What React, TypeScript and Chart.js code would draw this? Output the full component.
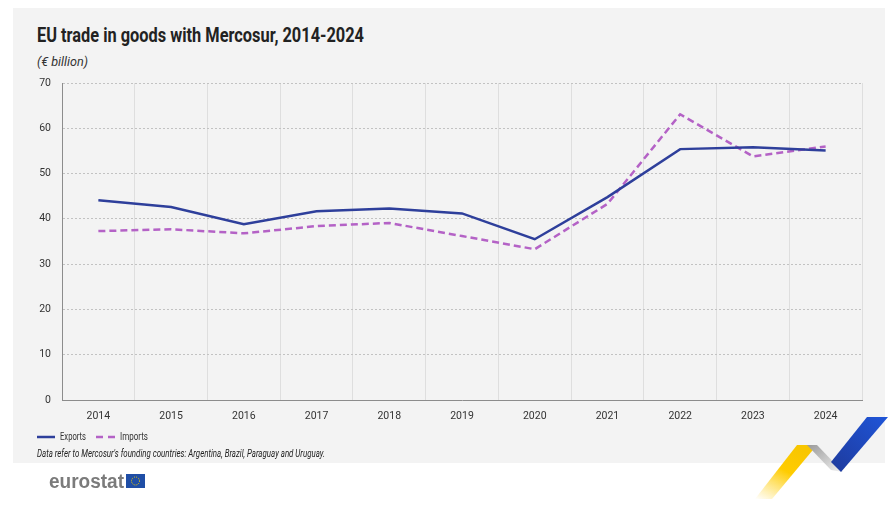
import React, { useEffect, useLayoutEffect, useRef } from "react";
import { Chart, registerables } from "chart.js";

Chart.register(...registerables);

const years = ["2014", "2015", "2016", "2017", "2018", "2019", "2020", "2021", "2022", "2023", "2024"];
const exportsData = [44.1, 42.6, 38.8, 41.7, 42.3, 41.2, 35.5, 44.8, 55.4, 55.8, 55.1];
const importsData = [37.3, 37.7, 36.8, 38.4, 39.1, 36.2, 33.3, 43.3, 63.1, 53.8, 56.0];
const yMin = 0;
const yMax = 70;
const yStep = 10;

const FONT = 'Roboto, "Liberation Sans", sans-serif';
const BLUE = "#2e3f9b";
const PURPLE = "#b462c6";

function FitText(props: { text: string; width: number; style: React.CSSProperties }) {
  const ref = useRef<HTMLSpanElement | null>(null);
  useLayoutEffect(() => {
    const el = ref.current;
    if (!el) return;
    const fit = () => {
      el.style.transform = "none";
      const w = el.getBoundingClientRect().width;
      if (w > 0) el.style.transform = `scaleX(${props.width / w})`;
    };
    fit();
    if ((document as any).fonts && (document as any).fonts.ready) {
      (document as any).fonts.ready.then(fit);
    }
  }, [props.text, props.width]);
  return (
    <span
      ref={ref}
      style={{
        position: "absolute",
        display: "inline-block",
        whiteSpace: "nowrap",
        transformOrigin: "left center",
        ...props.style,
      }}
    >
      {props.text}
    </span>
  );
}

export default function App() {
  const ref = useRef<HTMLCanvasElement | null>(null);

  useEffect(() => {
    if (!ref.current) return;
    const chart = new Chart(ref.current, {
      type: "line",
      data: {
        labels: years,
        datasets: [
          {
            label: "Exports",
            data: exportsData,
            borderColor: BLUE,
            backgroundColor: BLUE,
            borderWidth: 2.5,
            pointRadius: 0,
            tension: 0,
          },
          {
            label: "Imports",
            data: importsData,
            borderColor: PURPLE,
            backgroundColor: PURPLE,
            borderWidth: 2.5,
            borderDash: [7, 4],
            pointRadius: 0,
            tension: 0,
          },
        ],
      },
      options: {
        responsive: false,
        animation: false,
        layout: { padding: { left: 32, right: 30, top: 83, bottom: 82 } },
        plugins: { legend: { display: false }, tooltip: { enabled: false } },
        scales: {
          x: {
            type: "category",
            offset: true,
            grid: {
              offset: true,
              drawTicks: false,
              lineWidth: 1,
              color: (c: any) => (c.index === years.length ? "rgba(0,0,0,0)" : "#dedede"),
            },
            border: { display: true, color: "#8c8c8c", width: 1 },
            ticks: { padding: 10, color: "#333", font: { family: FONT, size: 10.5 } },
            afterFit: (s: any) => {
              s.height = 24;
            },
          },
          y: {
            min: yMin,
            max: yMax,
            ticks: { stepSize: yStep, padding: 11, color: "#333", font: { family: FONT, size: 10.5 } },
            grid: { drawTicks: false, color: "#c2c2c2", lineWidth: 1 },
            border: { display: true, color: "#8c8c8c", width: 1, dash: [2, 2] },
            afterFit: (s: any) => {
              s.width = 30;
            },
          },
        },
      },
    });
    return () => chart.destroy();
  }, []);

  return (
    <div style={{ position: "absolute", left: 0, top: 0, width: 892, height: 506, background: "#fff", overflow: "hidden" }}>
      <div style={{ position: "absolute", left: 13, top: 8, width: 872, height: 455, background: "#f3f3f3" }} />
      <FitText
        text="EU trade in goods with Mercosur, 2014-2024"
        width={327}
        style={{ left: 37, top: 25, fontFamily: FONT, fontWeight: 700, fontSize: 21, lineHeight: "21px", color: "#222" }}
      />
      <FitText
        text="(€ billion)"
        width={51}
        style={{ left: 37, top: 56, fontFamily: FONT, fontStyle: "italic", fontSize: 12.5, lineHeight: "12.5px", color: "#333" }}
      />
      <canvas ref={ref} width={892} height={506} style={{ position: "absolute", left: 0, top: 0, width: 892, height: 506 }} />
      <svg width={20} height={6} style={{ position: "absolute", left: 37, top: 434 }}>
        <line x1={0} y1={3} x2={18} y2={3} stroke={BLUE} strokeWidth={2.5} />
      </svg>
      <FitText
        text="Exports"
        width={26}
        style={{ left: 60, top: 431, fontFamily: FONT, fontSize: 11, lineHeight: "11px", color: "#333" }}
      />
      <svg width={20} height={6} style={{ position: "absolute", left: 96, top: 434 }}>
        <line x1={0} y1={3} x2={19} y2={3} stroke={PURPLE} strokeWidth={2.5} strokeDasharray="7 5" />
      </svg>
      <FitText
        text="Imports"
        width={28}
        style={{ left: 120, top: 431, fontFamily: FONT, fontSize: 11, lineHeight: "11px", color: "#333" }}
      />
      <FitText
        text="Data refer to Mercosur's founding countries: Argentina, Brazil, Paraguay and Uruguay."
        width={288}
        style={{ left: 37, top: 449, fontFamily: FONT, fontStyle: "italic", fontSize: 10, lineHeight: "10px", color: "#222" }}
      />
      <FitText
        text="eurostat"
        width={75}
        style={{ left: 49, top: 472, fontFamily: '"Liberation Sans", Arial, sans-serif', fontWeight: 700, fontSize: 19.5, lineHeight: "19.5px", color: "#7b7b7b" }}
      />
      <svg width={19} height={14} style={{ position: "absolute", left: 126, top: 474 }}>
        <rect x={0} y={0} width={19} height={14} fill="#1f4ea6" />
        <circle cx={9.5} cy={7} r={4} fill="none" stroke="#f5d000" strokeWidth={1} strokeDasharray="1 1.1" />
      </svg>
      <svg width={892} height={506} style={{ position: "absolute", left: 0, top: 0 }}>
        <defs>
          <linearGradient id="yel" x1="0" y1="1" x2="0.6" y2="0">
            <stop offset="0" stopColor="#ffd21f" stopOpacity={0} />
            <stop offset="0.6" stopColor="#ffcc00" stopOpacity={1} />
            <stop offset="1" stopColor="#f8c600" stopOpacity={1} />
          </linearGradient>
          <linearGradient id="gry" x1="0" y1="0" x2="1" y2="1">
            <stop offset="0" stopColor="#9a9a9a" />
            <stop offset="1" stopColor="#f2f2f2" />
          </linearGradient>
          <linearGradient id="blu" x1="0" y1="1" x2="1" y2="0">
            <stop offset="0" stopColor="#1e3a9c" />
            <stop offset="1" stopColor="#1f55d8" />
          </linearGradient>
        </defs>
        <polygon points="797,445 817,445 772,499 755,499" fill="url(#yel)" />
        <polygon points="807,445 817,445 843,472 831,470" fill="url(#gry)" />
        <polygon points="831,462 841,472 888,417 867,417" fill="url(#blu)" />
      </svg>
    </div>
  );
}
